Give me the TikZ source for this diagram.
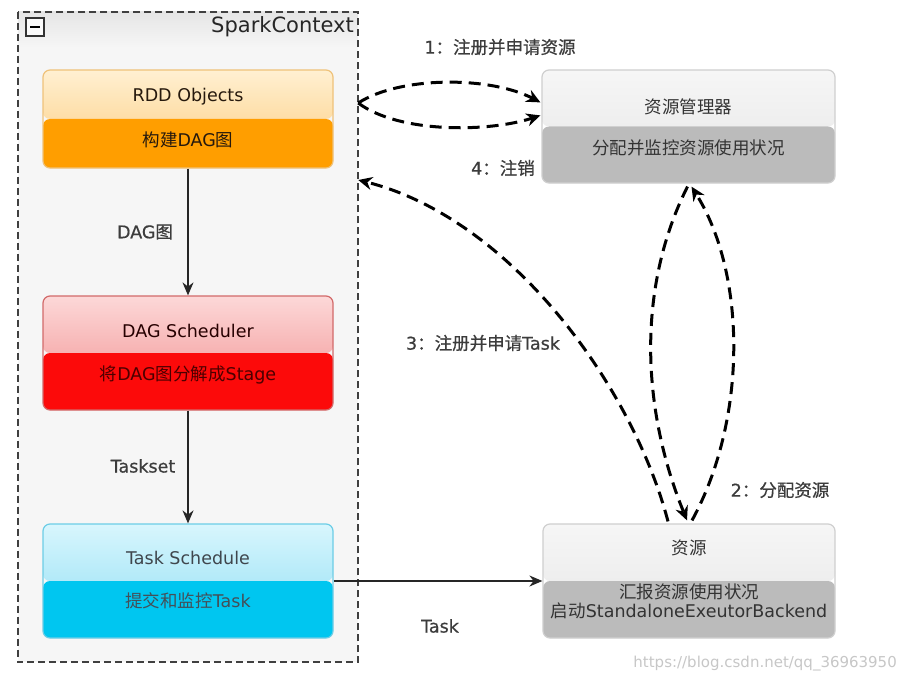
\documentclass[tikz,border=0pt]{standalone}
\usepackage{fontspec}
\setmainfont{DejaVu Sans}
\newfontfamily\cjkf{Noto Sans CJK SC}
\newfontfamily\lblf[FakeBold=0.6]{DejaVu Sans}
\newfontfamily\lblcjkf[FakeBold=0.6]{Noto Sans CJK SC}
\newcommand{\cj}[1]{{\cjkf #1}}
\newcommand{\lcj}[1]{{\lblcjkf #1}}
\usetikzlibrary{arrows.meta,calc}
\definecolor{rddtop}{HTML}{FFF0D2}
\definecolor{rddmid}{HTML}{FCCB7A}
\definecolor{rddbot}{HTML}{FF9E00}
\definecolor{rddline}{HTML}{EFC27A}
\definecolor{dagtop}{HTML}{FCD8D8}
\definecolor{dagmid}{HTML}{F28C8C}
\definecolor{dagbot}{HTML}{FC0A0A}
\definecolor{dagline}{HTML}{D26A6A}
\definecolor{tsktop}{HTML}{D8F6FD}
\definecolor{tskmid}{HTML}{8CDDF4}
\definecolor{tskbot}{HTML}{00C6F0}
\definecolor{tskline}{HTML}{6CCDE6}
\definecolor{gtop}{HTML}{F6F6F6}
\definecolor{gmid}{HTML}{E6E6E6}
\definecolor{gbot}{HTML}{BBBBBB}
\definecolor{gline}{HTML}{CFCFCF}
\definecolor{txtc}{HTML}{333333}
\definecolor{lblc}{HTML}{3C3C3C}
\begin{document}
\begin{tikzpicture}[x=1pt,y=-1pt,
  twobox/.style n args={4}{rounded corners=7pt, draw=#4, line width=1.2pt,
    minimum width=290pt, inner sep=0pt,
    path picture={\shade[top color=#1,bottom color=#2]
        (path picture bounding box.north west) rectangle (path picture bounding box.east);
      \fill[#3] (path picture bounding box.west) rectangle (path picture bounding box.south east);}},
  boxtxt/.style={font=\fontsize{17.5}{20}\selectfont, text=txtc, inner sep=0pt},
  lbl/.style={font=\lblf\fontsize{17.5}{20}\selectfont, text=lblc, inner sep=0pt},
  dash arrow/.style={line width=3pt, dash pattern=on 12pt off 7pt,
    -{Stealth[length=14pt,width=13pt]}},
  solid arrow/.style={line width=1.6pt, draw=black!85, -{Stealth[length=13pt,width=11pt]}},
  scborder/.style={draw=black!75, line width=1.6pt, dash pattern=on 7pt off 4pt}
]
\useasboundingbox (0,0) rectangle (907,682);
\fill[white] (0,0) rectangle (907,682);

% SparkContext container
\node[fill=gray!7, minimum width=340pt, minimum height=650pt, inner sep=0pt] (sc) at (188,337) {};
\shade[top color=gray!20, bottom color=gray!7] (sc.north west) rectangle ($(sc.north east)+(0,36)$);
\draw[scborder] (sc.north west) rectangle (sc.south east);
\node[draw=black!80, line width=1.1pt, minimum size=18pt, inner sep=0pt, fill=gray!4] (minus) at (35,27) {};
\draw[line width=2pt] ($(minus.center)+(-5,0)$) -- ($(minus.center)+(5,0)$);
\node[anchor=east, font=\fontsize{21}{24}\selectfont, text=black!85, inner sep=0pt] (sctitle) at (354,27) {SparkContext};

% RDD Objects
\node[twobox={rddtop}{rddmid}{rddbot}{rddline}, minimum height=98pt] (rdd) at (188,119) {};
\node[boxtxt, text=black!80!brown] (rddT) at ($(rdd.center)+(0,-22)$) {RDD Objects};
\node[boxtxt, text=black!80!brown] (rddS) at ($(rdd.center)+(0,21)$) {\cj{构建}DAG\cj{图}};

% DAG Scheduler
\node[twobox={dagtop}{dagmid}{dagbot}{dagline}, minimum height=114pt] (dag) at (188,353) {};
\node[boxtxt, text=black!85!red] (dagT) at ($(dag.center)+(0,-22)$) {DAG Scheduler};
\node[boxtxt, text=black!70!red] (dagS) at ($(dag.center)+(0,22)$) {\cj{将}DAG\cj{图分解成}Stage};

% Task Schedule
\node[twobox={tsktop}{tskmid}{tskbot}{tskline}, minimum height=114pt] (tsk) at (188,581) {};
\node[boxtxt, text=black!80!cyan] (tskT) at ($(tsk.center)+(0,-23)$) {Task Schedule};
\node[boxtxt, text=black!75!cyan] (tskS) at ($(tsk.center)+(0,20)$) {\cj{提交和监控}Task};

% Resource manager
\node[twobox={gtop}{gmid}{gbot}{gline}, minimum width=293pt, minimum height=113pt] (rm) at (688.5,126.5) {};
\node[boxtxt] (rmT) at ($(rm.center)+(0,-20)$) {\cj{资源管理器}};
\node[boxtxt] (rmS) at ($(rm.center)+(0,21)$) {\cj{分配并监控资源使用状况}};

% Resource
\node[twobox={gtop}{gmid}{gbot}{gline}, minimum width=292pt, minimum height=114pt] (rs) at (689,581) {};
\node[boxtxt] (rsT) at ($(rs.center)+(0,-33)$) {\cj{资源}};
\node[boxtxt] (rsS1) at ($(rs.center)+(0,11)$) {\cj{汇报资源使用状况}};
\node[boxtxt] (rsS2) at ($(rs.center)+(0,30)$) {\cj{启动}StandaloneExeutorBackend};

% vertical arrows inside SparkContext
\draw[solid arrow] (rdd.south) -- (dag.north);
\draw[solid arrow] (dag.south) -- (tsk.north);
\node[lbl] (l1) at (145,232) {DAG\lcj{图}};
\node[lbl] (l2) at (143,466) {Taskset};

% Task arrow
\draw[solid arrow] (tsk.east) -- (rs.west);
\node[lbl] (l3) at (440,626) {Task};

% 1: register
\coordinate (s1) at (sc.north east |- 0,103);
\draw[dash arrow] (s1) .. controls (400,76) and (490,76) .. ($(rm.north west)+(-1,33)$);
\draw[dash arrow] (s1) .. controls (400,134) and (490,132) .. ($(rm.north west)+(-1,46)$);
\node[lbl] (l4) at (500,47) {1\lcj{：注册并申请资源}};

% 3/4: task register / deregister
\coordinate (s4) at (sc.north east |- 0,180);
\draw[dash arrow] ($(rs.north)+(-21,-2)$) .. controls (632,385) and (510,218) .. (s4);
\node[lbl] (l5) at (503,168) {4\lcj{：注销}};
\node[lbl] (l6) at (483,343) {3\lcj{：注册并申请}Task};

% 2: allocate resources
\draw[dash arrow] ($(rm.south)+(-1,3)$) .. controls (638,285) and (640,405) .. ($(rs.north)+(-2,-3)$);
\draw[dash arrow] ($(rs.north)+(3,-3)$) .. controls (747,420) and (747,275) .. ($(rm.south)+(3,3)$);
\node[lbl] (l7) at (780,490) {2\lcj{：分配资源}};

% watermark
\node[font=\fontsize{15}{17}\selectfont, text=black!22, inner sep=0pt, anchor=east] (wm) at (897,664) {https://blog.csdn.net/qq\_36963950};
\end{tikzpicture}
\end{document}
